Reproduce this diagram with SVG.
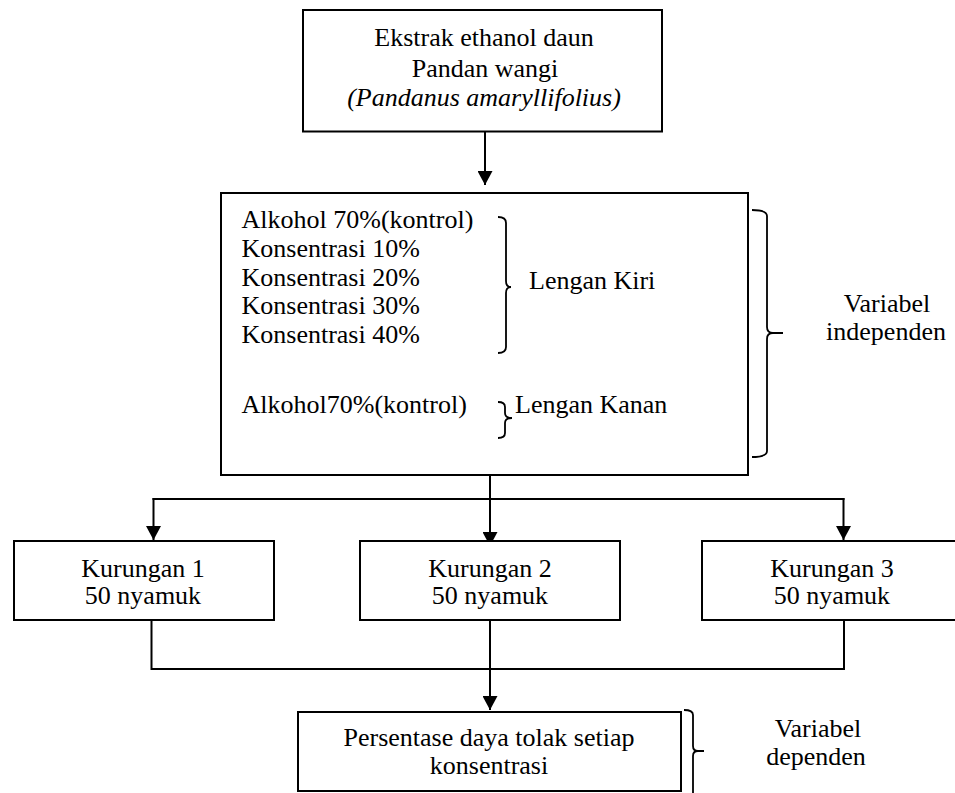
<svg xmlns="http://www.w3.org/2000/svg" width="955" height="793" viewBox="0 0 955 793">
<defs>
<style>
.box{fill:#fff;stroke:#000;stroke-width:2}
.ln{fill:none;stroke:#000;stroke-width:2}
.br{fill:none;stroke:#000;stroke-width:1.8}
.t{font-family:"Liberation Serif",serif;font-size:26px;fill:#000}
.c{text-anchor:middle}
.it{font-style:italic}
</style>
<marker id="ah" viewBox="0 0 14 15" refX="14" refY="7.5" markerWidth="14" markerHeight="15" markerUnits="userSpaceOnUse" orient="auto">
<path d="M0,0 L14,7.5 L0,15 Z" fill="#000"/>
</marker>
</defs>
<rect width="955" height="793" fill="#fff"/>

<g id="connectors">
<line class="ln" x1="485" y1="132" x2="485" y2="185" marker-end="url(#ah)"/>
<line class="ln" x1="490" y1="475" x2="490" y2="546" marker-end="url(#ah)"/>
<line class="ln" x1="152.5" y1="499" x2="844.5" y2="499"/>
<line class="ln" x1="153.5" y1="498" x2="153.5" y2="540" marker-end="url(#ah)"/>
<line class="ln" x1="843.5" y1="498" x2="843.5" y2="540" marker-end="url(#ah)"/>
<polyline class="ln" points="151.5,620 151.5,669 844,669 844,620"/>
<line class="ln" x1="490" y1="620" x2="490" y2="710" marker-end="url(#ah)"/>
</g>

<g id="node-ekstrak">
<rect class="box" x="303" y="10" width="359" height="121.5"/>
<text class="t c" x="484" y="46">Ekstrak ethanol daun</text>
<text class="t c" x="485" y="76.5">Pandan wangi</text>
<text class="t c it" x="484" y="105.5">(Pandanus amaryllifolius)</text>
</g>

<g id="node-perlakuan">
<rect class="box" x="221" y="193" width="527" height="282"/>
<text class="t" x="241.5" y="228">Alkohol 70%(kontrol)</text>
<text class="t" x="241.5" y="256.8">Konsentrasi 10%</text>
<text class="t" x="241.5" y="285.6">Konsentrasi 20%</text>
<text class="t" x="241.5" y="314.4">Konsentrasi 30%</text>
<text class="t" x="241.5" y="343.2">Konsentrasi 40%</text>
<path class="br" d="M498,217 Q506,217 506,223 L506,281 Q506,287 511,287 Q506,287 506,293 L506,347 Q506,353 498,353"/>
<text class="t" x="529" y="289">Lengan Kiri</text>
<text class="t" x="241.5" y="413">Alkohol70%(kontrol)</text>
<path class="br" d="M498,402 Q505,402 505,407 L505,413 Q505,418 512,418 Q505,418 505,423 L505,433 Q505,438 498,438"/>
<text class="t" x="515" y="413">Lengan Kanan</text>
</g>

<g id="label-independen">
<path class="br" d="M752,210 Q767,210 767,216 L767,327 Q767,333 773,333 L783,333 M773,333 Q767,333 767,339 L767,451 Q767,457 752,457"/>
<text class="t c" x="887" y="311.5">Variabel</text>
<text class="t c" x="886" y="340">independen</text>
</g>

<g id="node-kurungan1">
<rect class="box" x="14" y="541" width="260" height="79"/>
<text class="t c" x="143" y="577">Kurungan 1</text>
<text class="t c" x="143" y="604">50 nyamuk</text>
</g>

<g id="node-kurungan2">
<rect class="box" x="360" y="541" width="260" height="79"/>
<text class="t c" x="490" y="577">Kurungan 2</text>
<text class="t c" x="490" y="604">50 nyamuk</text>
</g>

<g id="node-kurungan3">
<rect class="box" x="702" y="541" width="260" height="79"/>
<text class="t c" x="832" y="577">Kurungan 3</text>
<text class="t c" x="832" y="604">50 nyamuk</text>
</g>

<g id="node-persentase">
<rect class="box" x="298" y="712" width="383" height="79"/>
<text class="t c" x="489" y="746">Persentase daya tolak setiap</text>
<text class="t c" x="489" y="774">konsentrasi</text>
</g>

<g id="label-dependen">
<path class="br" d="M684,710 Q693,710 693,715 L693,746 Q693,751 698,751 L704,751 M698,751 Q693,751 693,756 L693,795"/>
<text class="t c" x="818" y="737">Variabel</text>
<text class="t c" x="816" y="765">dependen</text>
</g>
</svg>
